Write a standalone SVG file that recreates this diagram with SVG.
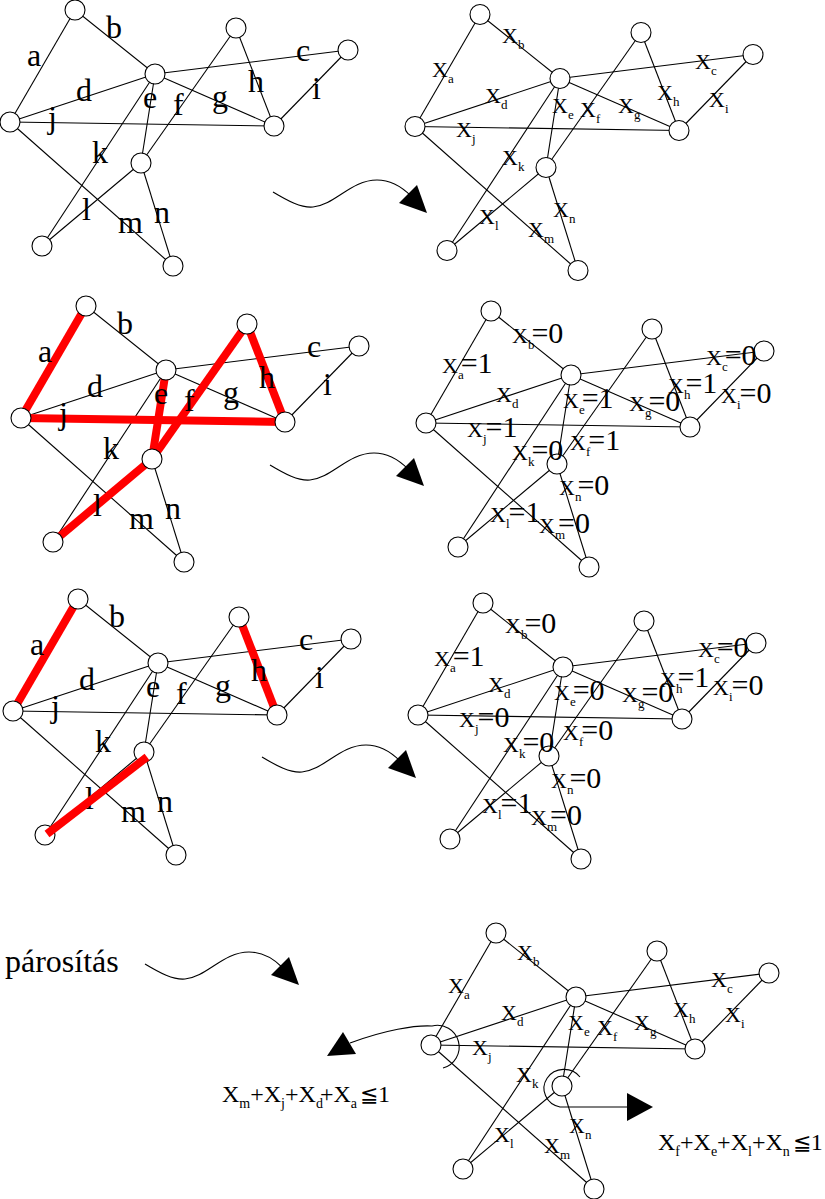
<svg xmlns="http://www.w3.org/2000/svg" xmlns:xlink="http://www.w3.org/1999/xlink" width="825" height="1199" viewBox="0 0 825 1199">
<style>
.e{stroke:#000;stroke-width:1.1;fill:none}
.r{stroke:#f00;stroke-width:8;fill:none}
.n{fill:#fff;stroke:#000;stroke-width:1.1}
.t{font-family:"Liberation Serif",serif;font-size:32px;fill:#000}
.x{font-family:"Liberation Serif",serif;font-size:22px;fill:#000}
.s{font-size:13px}
.v{font-size:30px}
.c{font-family:"Liberation Serif",serif;font-size:24px;fill:#000}
.cs{font-size:14px}
.le{font-family:"DejaVu Serif",serif;font-size:22px}
.hd{fill:#000}
</style>
<defs>
<g id="wave"><path class="e" d="M0 0 C15 9 28 16 40 15 C62 13 78 -12 104 -12 C118 -12 130 -4 138 4"/><polygon class="hd" points="126,11 144,-7 154,21"/></g>
</defs>
<rect width="825" height="1199" fill="#fff"/>

<!-- Graph L1 -->
<g id="graph-L1">
<g id="conn-L1">
<line class="e" x1="10" y1="122" x2="75" y2="10"/><line class="e" x1="75" y1="10" x2="155" y2="74"/><line class="e" x1="155" y1="74" x2="348" y2="50"/><line class="e" x1="10" y1="122" x2="155" y2="74"/><line class="e" x1="155" y1="74" x2="141" y2="163"/><line class="e" x1="141" y1="163" x2="236" y2="28"/><line class="e" x1="155" y1="74" x2="274" y2="126"/><line class="e" x1="236" y1="28" x2="274" y2="126"/><line class="e" x1="274" y1="126" x2="348" y2="50"/><line class="e" x1="10" y1="122" x2="274" y2="126"/><line class="e" x1="155" y1="74" x2="42" y2="246"/><line class="e" x1="141" y1="163" x2="42" y2="246"/><line class="e" x1="10" y1="122" x2="173" y2="266"/><line class="e" x1="141" y1="163" x2="173" y2="266"/>
</g>
<g id="L1-n1"><circle class="n" cx="75" cy="10" r="10"/></g><g id="L1-n2"><circle class="n" cx="155" cy="74" r="10"/></g><g id="L1-n3"><circle class="n" cx="236" cy="28" r="10"/></g><g id="L1-n4"><circle class="n" cx="348" cy="50" r="10"/></g><g id="L1-n5"><circle class="n" cx="10" cy="122" r="10"/></g><g id="L1-n6"><circle class="n" cx="274" cy="126" r="10"/></g><g id="L1-n7"><circle class="n" cx="141" cy="163" r="10"/></g><g id="L1-n8"><circle class="n" cx="42" cy="246" r="10"/></g><g id="L1-n9"><circle class="n" cx="173" cy="266" r="10"/></g>
<g id="lab-L1" class="t"><text x="27" y="66">a</text><text x="106" y="38">b</text><text x="296" y="61">c</text><text x="76" y="101">d</text><text x="143" y="108">e</text><text x="173" y="115">f</text><text x="212" y="107">g</text><text x="248" y="92">h</text><text x="312" y="99">i</text><text x="48" y="128">j</text><text x="92" y="163">k</text><text x="82" y="220">l</text><text x="118" y="233">m</text><text x="154" y="223">n</text></g>
</g>

<!-- Graph L2 -->
<g id="graph-L2" transform="translate(11,296)">
<g id="conn-L2">
<line class="e" x1="10" y1="122" x2="75" y2="10"/><line class="e" x1="75" y1="10" x2="155" y2="74"/><line class="e" x1="155" y1="74" x2="348" y2="50"/><line class="e" x1="10" y1="122" x2="155" y2="74"/><line class="e" x1="155" y1="74" x2="141" y2="163"/><line class="e" x1="141" y1="163" x2="236" y2="28"/><line class="e" x1="155" y1="74" x2="274" y2="126"/><line class="e" x1="236" y1="28" x2="274" y2="126"/><line class="e" x1="274" y1="126" x2="348" y2="50"/><line class="e" x1="10" y1="122" x2="274" y2="126"/><line class="e" x1="155" y1="74" x2="42" y2="246"/><line class="e" x1="141" y1="163" x2="42" y2="246"/><line class="e" x1="10" y1="122" x2="173" y2="266"/><line class="e" x1="141" y1="163" x2="173" y2="266"/>
<g id="match-L2"><line class="r" x1="10" y1="122" x2="75" y2="10"/><line class="r" x1="10" y1="122" x2="274" y2="126"/><line class="r" x1="155" y1="74" x2="141" y2="163"/><line class="r" x1="141" y1="163" x2="236" y2="28"/><line class="r" x1="236" y1="28" x2="274" y2="126"/><line class="r" x1="141" y1="163" x2="42" y2="246"/></g>
</g>
<g id="L2-n1"><circle class="n" cx="75" cy="10" r="10"/></g><g id="L2-n2"><circle class="n" cx="155" cy="74" r="10"/></g><g id="L2-n3"><circle class="n" cx="236" cy="28" r="10"/></g><g id="L2-n4"><circle class="n" cx="348" cy="50" r="10"/></g><g id="L2-n5"><circle class="n" cx="10" cy="122" r="10"/></g><g id="L2-n6"><circle class="n" cx="274" cy="126" r="10"/></g><g id="L2-n7"><circle class="n" cx="141" cy="163" r="10"/></g><g id="L2-n8"><circle class="n" cx="42" cy="246" r="10"/></g><g id="L2-n9"><circle class="n" cx="173" cy="266" r="10"/></g>
<g id="lab-L2" class="t"><text x="27" y="66">a</text><text x="106" y="38">b</text><text x="296" y="61">c</text><text x="76" y="101">d</text><text x="143" y="108">e</text><text x="173" y="115">f</text><text x="212" y="107">g</text><text x="248" y="92">h</text><text x="312" y="99">i</text><text x="48" y="128">j</text><text x="92" y="163">k</text><text x="82" y="220">l</text><text x="118" y="233">m</text><text x="154" y="223">n</text></g>
</g>

<!-- Graph L3 -->
<g id="graph-L3" transform="translate(3,589)">
<g id="conn-L3">
<line class="e" x1="10" y1="122" x2="75" y2="10"/><line class="e" x1="75" y1="10" x2="155" y2="74"/><line class="e" x1="155" y1="74" x2="348" y2="50"/><line class="e" x1="10" y1="122" x2="155" y2="74"/><line class="e" x1="155" y1="74" x2="141" y2="163"/><line class="e" x1="141" y1="163" x2="236" y2="28"/><line class="e" x1="155" y1="74" x2="274" y2="126"/><line class="e" x1="236" y1="28" x2="274" y2="126"/><line class="e" x1="274" y1="126" x2="348" y2="50"/><line class="e" x1="10" y1="122" x2="274" y2="126"/><line class="e" x1="155" y1="74" x2="42" y2="246"/><line class="e" x1="141" y1="163" x2="42" y2="246"/><line class="e" x1="10" y1="122" x2="173" y2="266"/><line class="e" x1="141" y1="163" x2="173" y2="266"/>
<g id="match-L3"><line class="r" x1="10" y1="122" x2="75" y2="10"/><line class="r" x1="236" y1="28" x2="274" y2="126"/></g>
</g>
<g id="L3-n1"><circle class="n" cx="75" cy="10" r="10"/></g><g id="L3-n2"><circle class="n" cx="155" cy="74" r="10"/></g><g id="L3-n3"><circle class="n" cx="236" cy="28" r="10"/></g><g id="L3-n4"><circle class="n" cx="348" cy="50" r="10"/></g><g id="L3-n5"><circle class="n" cx="10" cy="122" r="10"/></g><g id="L3-n6"><circle class="n" cx="274" cy="126" r="10"/></g><g id="L3-n7"><circle class="n" cx="141" cy="163" r="10"/></g><g id="L3-n8"><circle class="n" cx="42" cy="246" r="10"/></g><g id="L3-n9"><circle class="n" cx="173" cy="266" r="10"/></g>
<g id="lab-L3" class="t"><text x="27" y="66">a</text><text x="106" y="38">b</text><text x="296" y="61">c</text><text x="76" y="101">d</text><text x="143" y="108">e</text><text x="173" y="115">f</text><text x="212" y="107">g</text><text x="248" y="92">h</text><text x="312" y="99">i</text><text x="48" y="128">j</text><text x="92" y="163">k</text><text x="82" y="220">l</text><text x="118" y="233">m</text><text x="154" y="223">n</text></g>
<line class="r" x1="144" y1="168" x2="44" y2="245"/>
</g>

<!-- Graph R1 -->
<g id="graph-R1" transform="translate(405,4.5)">
<g id="conn-R1">
<line class="e" x1="10" y1="122" x2="75" y2="10"/><line class="e" x1="75" y1="10" x2="155" y2="74"/><line class="e" x1="155" y1="74" x2="348" y2="50"/><line class="e" x1="10" y1="122" x2="155" y2="74"/><line class="e" x1="155" y1="74" x2="141" y2="163"/><line class="e" x1="141" y1="163" x2="236" y2="28"/><line class="e" x1="155" y1="74" x2="274" y2="126"/><line class="e" x1="236" y1="28" x2="274" y2="126"/><line class="e" x1="274" y1="126" x2="348" y2="50"/><line class="e" x1="10" y1="122" x2="274" y2="126"/><line class="e" x1="155" y1="74" x2="42" y2="246"/><line class="e" x1="141" y1="163" x2="42" y2="246"/><line class="e" x1="10" y1="122" x2="173" y2="266"/><line class="e" x1="141" y1="163" x2="173" y2="266"/>
</g>
<g id="R1-n1"><circle class="n" cx="75" cy="10" r="10"/></g><g id="R1-n2"><circle class="n" cx="155" cy="74" r="10"/></g><g id="R1-n3"><circle class="n" cx="236" cy="28" r="10"/></g><g id="R1-n4"><circle class="n" cx="348" cy="50" r="10"/></g><g id="R1-n5"><circle class="n" cx="10" cy="122" r="10"/></g><g id="R1-n6"><circle class="n" cx="274" cy="126" r="10"/></g><g id="R1-n7"><circle class="n" cx="141" cy="163" r="10"/></g><g id="R1-n8"><circle class="n" cx="42" cy="246" r="10"/></g><g id="R1-n9"><circle class="n" cx="173" cy="266" r="10"/></g>
</g>
<g id="lab-R1" class="x">
<text x="432" y="77">X<tspan class="s" dy="6">a</tspan></text>
<text x="502" y="43">X<tspan class="s" dy="6">b</tspan></text>
<text x="695" y="69">X<tspan class="s" dy="6">c</tspan></text>
<text x="485" y="103">X<tspan class="s" dy="6">d</tspan></text>
<text x="552" y="113">X<tspan class="s" dy="6">e</tspan></text>
<text x="580" y="117">X<tspan class="s" dy="6">f</tspan></text>
<text x="618" y="113">X<tspan class="s" dy="6">g</tspan></text>
<text x="657" y="100">X<tspan class="s" dy="6">h</tspan></text>
<text x="709" y="107">X<tspan class="s" dy="6">i</tspan></text>
<text x="456" y="137">X<tspan class="s" dy="6">j</tspan></text>
<text x="502" y="165">X<tspan class="s" dy="6">k</tspan></text>
<text x="479" y="224">X<tspan class="s" dy="6">l</tspan></text>
<text x="528" y="237">X<tspan class="s" dy="6">m</tspan></text>
<text x="553" y="217">X<tspan class="s" dy="6">n</tspan></text>
</g>

<!-- Graph R2 -->
<g id="graph-R2" transform="translate(416,301)">
<g id="conn-R2">
<line class="e" x1="10" y1="122" x2="75" y2="10"/><line class="e" x1="75" y1="10" x2="155" y2="74"/><line class="e" x1="155" y1="74" x2="348" y2="50"/><line class="e" x1="10" y1="122" x2="155" y2="74"/><line class="e" x1="155" y1="74" x2="141" y2="163"/><line class="e" x1="141" y1="163" x2="236" y2="28"/><line class="e" x1="155" y1="74" x2="274" y2="126"/><line class="e" x1="236" y1="28" x2="274" y2="126"/><line class="e" x1="274" y1="126" x2="348" y2="50"/><line class="e" x1="10" y1="122" x2="274" y2="126"/><line class="e" x1="155" y1="74" x2="42" y2="246"/><line class="e" x1="141" y1="163" x2="42" y2="246"/><line class="e" x1="10" y1="122" x2="173" y2="266"/><line class="e" x1="141" y1="163" x2="173" y2="266"/>
</g>
<g id="R2-n1"><circle class="n" cx="75" cy="10" r="10"/></g><g id="R2-n2"><circle class="n" cx="155" cy="74" r="10"/></g><g id="R2-n3"><circle class="n" cx="236" cy="28" r="10"/></g><g id="R2-n4"><circle class="n" cx="348" cy="50" r="10"/></g><g id="R2-n5"><circle class="n" cx="10" cy="122" r="10"/></g><g id="R2-n6"><circle class="n" cx="274" cy="126" r="10"/></g><g id="R2-n7"><circle class="n" cx="141" cy="163" r="10"/></g><g id="R2-n8"><circle class="n" cx="42" cy="246" r="10"/></g><g id="R2-n9"><circle class="n" cx="173" cy="266" r="10"/></g>
</g>
<g id="lab-R2" class="x">
<text x="512" y="343">X<tspan class="s" dy="6">b</tspan><tspan class="v" dy="-6" dx="-3">=0</tspan></text>
<text x="442" y="373">X<tspan class="s" dy="6">a</tspan><tspan class="v" dy="-6" dx="-3">=1</tspan></text>
<text x="706" y="365">X<tspan class="s" dy="6">c</tspan><tspan class="v" dy="-6" dx="-3">=0</tspan></text>
<text x="496" y="402">X<tspan class="s" dy="6">d</tspan></text>
<text x="563" y="408">X<tspan class="s" dy="6">e</tspan><tspan class="v" dy="-6" dx="-3">=1</tspan></text>
<text x="629" y="411">X<tspan class="s" dy="6">g</tspan><tspan class="v" dy="-6" dx="-3">=0</tspan></text>
<text x="668" y="393">X<tspan class="s" dy="6">h</tspan><tspan class="v" dy="-6" dx="-5">=1</tspan></text>
<text x="721" y="403">X<tspan class="s" dy="6">i</tspan><tspan class="v" dy="-6" dx="-1">=0</tspan></text>
<text x="467" y="437">X<tspan class="s" dy="6">j</tspan><tspan class="v" dy="-6" dx="-1">=1</tspan></text>
<text x="570" y="450">X<tspan class="s" dy="6">f</tspan><tspan class="v" dy="-6" dx="-2">=1</tspan></text>
<text x="512" y="460">X<tspan class="s" dy="6">k</tspan><tspan class="v" dy="-6" dx="-3">=0</tspan></text>
<text x="559" y="495">X<tspan class="s" dy="6">n</tspan><tspan class="v" dy="-6" dx="-4">=0</tspan></text>
<text x="490" y="522">X<tspan class="s" dy="6">l</tspan><tspan class="v" dy="-6" dx="-1">=1</tspan></text>
<text x="539" y="533">X<tspan class="s" dy="6">m</tspan><tspan class="v" dy="-6" dx="-7">=0</tspan></text>
</g>

<!-- Graph R3 -->
<g id="graph-R3" transform="translate(408,593)">
<g id="conn-R3">
<line class="e" x1="10" y1="122" x2="75" y2="10"/><line class="e" x1="75" y1="10" x2="155" y2="74"/><line class="e" x1="155" y1="74" x2="348" y2="50"/><line class="e" x1="10" y1="122" x2="155" y2="74"/><line class="e" x1="155" y1="74" x2="141" y2="163"/><line class="e" x1="141" y1="163" x2="236" y2="28"/><line class="e" x1="155" y1="74" x2="274" y2="126"/><line class="e" x1="236" y1="28" x2="274" y2="126"/><line class="e" x1="274" y1="126" x2="348" y2="50"/><line class="e" x1="10" y1="122" x2="274" y2="126"/><line class="e" x1="155" y1="74" x2="42" y2="246"/><line class="e" x1="141" y1="163" x2="42" y2="246"/><line class="e" x1="10" y1="122" x2="173" y2="266"/><line class="e" x1="141" y1="163" x2="173" y2="266"/>
</g>
<g id="R3-n1"><circle class="n" cx="75" cy="10" r="10"/></g><g id="R3-n2"><circle class="n" cx="155" cy="74" r="10"/></g><g id="R3-n3"><circle class="n" cx="236" cy="28" r="10"/></g><g id="R3-n4"><circle class="n" cx="348" cy="50" r="10"/></g><g id="R3-n5"><circle class="n" cx="10" cy="122" r="10"/></g><g id="R3-n6"><circle class="n" cx="274" cy="126" r="10"/></g><g id="R3-n7"><circle class="n" cx="141" cy="163" r="10"/></g><g id="R3-n8"><circle class="n" cx="42" cy="246" r="10"/></g><g id="R3-n9"><circle class="n" cx="173" cy="266" r="10"/></g>
</g>
<g id="lab-R3" class="x">
<text x="505" y="633">X<tspan class="s" dy="6">b</tspan><tspan class="v" dy="-6" dx="-3">=0</tspan></text>
<text x="434" y="666">X<tspan class="s" dy="6">a</tspan><tspan class="v" dy="-6" dx="-3">=1</tspan></text>
<text x="698" y="657">X<tspan class="s" dy="6">c</tspan><tspan class="v" dy="-6" dx="-3">=0</tspan></text>
<text x="488" y="692">X<tspan class="s" dy="6">d</tspan></text>
<text x="554" y="700">X<tspan class="s" dy="6">e</tspan><tspan class="v" dy="-6" dx="-3">=0</tspan></text>
<text x="622" y="702">X<tspan class="s" dy="6">g</tspan><tspan class="v" dy="-6" dx="-3">=0</tspan></text>
<text x="660" y="687">X<tspan class="s" dy="6">h</tspan><tspan class="v" dy="-6" dx="-5">=1</tspan></text>
<text x="713" y="695">X<tspan class="s" dy="6">i</tspan><tspan class="v" dy="-6" dx="-1">=0</tspan></text>
<text x="459" y="727">X<tspan class="s" dy="6">j</tspan><tspan class="v" dy="-6" dx="-1">=0</tspan></text>
<text x="563" y="740">X<tspan class="s" dy="6">f</tspan><tspan class="v" dy="-6" dx="-2">=0</tspan></text>
<text x="503" y="752">X<tspan class="s" dy="6">k</tspan><tspan class="v" dy="-6" dx="-3">=0</tspan></text>
<text x="551" y="788">X<tspan class="s" dy="6">n</tspan><tspan class="v" dy="-6" dx="-4">=0</tspan></text>
<text x="482" y="813">X<tspan class="s" dy="6">l</tspan><tspan class="v" dy="-6" dx="-1">=1</tspan></text>
<text x="531" y="825">X<tspan class="s" dy="6">m</tspan><tspan class="v" dy="-6" dx="-7">=0</tspan></text>
</g>

<!-- Graph R4 -->
<g id="graph-R4" transform="translate(421,923)">
<g id="conn-R4">
<line class="e" x1="10" y1="122" x2="75" y2="10"/><line class="e" x1="75" y1="10" x2="155" y2="74"/><line class="e" x1="155" y1="74" x2="348" y2="50"/><line class="e" x1="10" y1="122" x2="155" y2="74"/><line class="e" x1="155" y1="74" x2="141" y2="163"/><line class="e" x1="141" y1="163" x2="236" y2="28"/><line class="e" x1="155" y1="74" x2="274" y2="126"/><line class="e" x1="236" y1="28" x2="274" y2="126"/><line class="e" x1="274" y1="126" x2="348" y2="50"/><line class="e" x1="10" y1="122" x2="274" y2="126"/><line class="e" x1="155" y1="74" x2="42" y2="246"/><line class="e" x1="141" y1="163" x2="42" y2="246"/><line class="e" x1="10" y1="122" x2="173" y2="266"/><line class="e" x1="141" y1="163" x2="173" y2="266"/>
</g>
<g id="R4-n1"><circle class="n" cx="75" cy="10" r="10"/></g><g id="R4-n2"><circle class="n" cx="155" cy="74" r="10"/></g><g id="R4-n3"><circle class="n" cx="236" cy="28" r="10"/></g><g id="R4-n4"><circle class="n" cx="348" cy="50" r="10"/></g><g id="R4-n5"><circle class="n" cx="10" cy="122" r="10"/></g><g id="R4-n6"><circle class="n" cx="274" cy="126" r="10"/></g><g id="R4-n7"><circle class="n" cx="141" cy="163" r="10"/></g><g id="R4-n8"><circle class="n" cx="42" cy="246" r="10"/></g><g id="R4-n9"><circle class="n" cx="173" cy="266" r="10"/></g>
</g>
<g id="lab-R4" class="x">
<text x="448" y="993">X<tspan class="s" dy="6">a</tspan></text>
<text x="517" y="960">X<tspan class="s" dy="6">b</tspan></text>
<text x="711" y="987">X<tspan class="s" dy="6">c</tspan></text>
<text x="501" y="1020">X<tspan class="s" dy="6">d</tspan></text>
<text x="568" y="1030">X<tspan class="s" dy="6">e</tspan></text>
<text x="597" y="1035">X<tspan class="s" dy="6">f</tspan></text>
<text x="634" y="1030">X<tspan class="s" dy="6">g</tspan></text>
<text x="673" y="1017">X<tspan class="s" dy="6">h</tspan></text>
<text x="725" y="1022">X<tspan class="s" dy="6">i</tspan></text>
<text x="472" y="1055">X<tspan class="s" dy="6">j</tspan></text>
<text x="516" y="1082">X<tspan class="s" dy="6">k</tspan></text>
<text x="494" y="1142">X<tspan class="s" dy="6">l</tspan></text>
<text x="544" y="1153">X<tspan class="s" dy="6">m</tspan></text>
<text x="569" y="1133">X<tspan class="s" dy="6">n</tspan></text>
</g>

<!-- Arrows -->
<g id="arrows">
<use xlink:href="#wave" transform="translate(273,192)"/>
<use xlink:href="#wave" transform="translate(270,465)"/>
<use xlink:href="#wave" transform="translate(262,757)"/>
<use xlink:href="#wave" transform="translate(145,964)"/>
<path class="e" d="M443 1068 A21 21 0 0 0 432 1026 C415 1025 385 1030 350 1043"/>
<polygon class="hd" points="343,1032 356,1054 327,1056"/>
<path class="e" d="M580 1077 A20 19 0 1 0 560 1107 L630 1107"/>
<polygon class="hd" points="627,1093 627,1121 653,1107"/>
</g>

<text class="t" x="5" y="972" style="font-size:32px">párosítás</text>

<text class="c" x="222" y="1102">X<tspan class="cs" dy="6">m</tspan><tspan dy="-6">+X</tspan><tspan class="cs" dy="6">j</tspan><tspan dy="-6">+X</tspan><tspan class="cs" dy="6">d</tspan><tspan dy="-6" dx="-3">+X</tspan><tspan class="cs" dy="6">a</tspan><tspan class="le" dy="-6" dx="3">≦</tspan><tspan>1</tspan></text>
<text class="c" x="658" y="1150">X<tspan class="cs" dy="6">f</tspan><tspan dy="-6">+X</tspan><tspan class="cs" dy="6">e</tspan><tspan dy="-6">+X</tspan><tspan class="cs" dy="6">l</tspan><tspan dy="-6">+X</tspan><tspan class="cs" dy="6">n</tspan><tspan class="le" dy="-6" dx="3">≦</tspan><tspan>1</tspan></text>
</svg>
